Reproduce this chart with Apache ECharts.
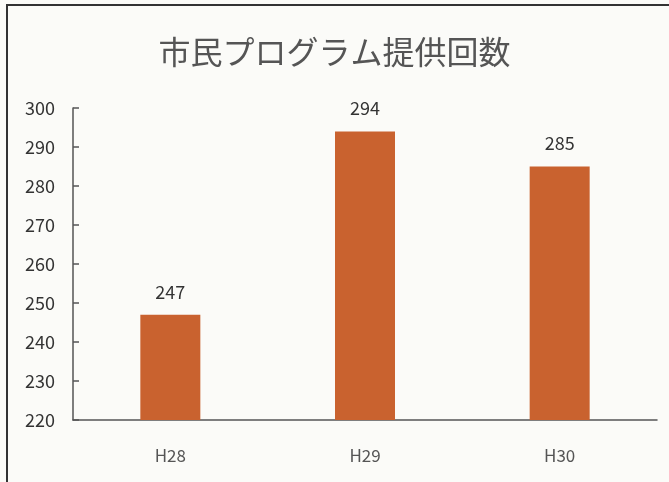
<!DOCTYPE html>
<html>
<head>
<meta charset="utf-8">
<script src="https://cdn.jsdelivr.net/npm/echarts@6/dist/echarts.min.js"></script>
<style>
  html, body { margin: 0; padding: 0; background: #fbfbf8; }
  #chart { width: 669px; height: 482px; }
</style>
</head>
<body>
<div id="chart"></div>
<script>
// Number of citizen programs offered per fiscal year
const categories = ['H28', 'H29', 'H30'];
const programCounts = [247, 294, 285];
const yTicks = [220, 230, 240, 250, 260, 270, 280, 290, 300];

const chart = echarts.init(document.getElementById('chart'));
const font = '"Noto Sans CJK JP", "Noto Sans", sans-serif';

chart.setOption({
  backgroundColor: '#fbfbf8',
  animation: false,
  title: {
    text: '市民プログラム提供回数',
    left: 'center',
    top: 31,
    textStyle: { fontFamily: font, fontSize: 32, fontWeight: 'normal', color: '#555' }
  },
  graphic: [{
    type: 'rect',
    shape: { x: 7, y: 5, width: 680, height: 480 },
    style: { fill: 'none', stroke: '#333', lineWidth: 2 },
    silent: true
  }],
  grid: { left: 73, right: 12, top: 108, bottom: 62 },
  xAxis: {
    type: 'category',
    data: categories,
    axisLine: { lineStyle: { color: '#555', width: 1.5 } },
    axisTick: { show: false },
    axisLabel: { fontFamily: font, fontSize: 17, color: '#555', margin: 27 }
  },
  yAxis: {
    type: 'value',
    min: yTicks[0],
    max: yTicks[yTicks.length - 1],
    interval: 10,
    splitLine: { show: false },
    axisLine: { show: true, lineStyle: { color: '#555', width: 1.5 } },
    axisTick: { show: true, inside: true, length: 6, lineStyle: { color: '#555', width: 1.5 } },
    axisLabel: { fontFamily: font, fontSize: 18, color: '#333', margin: 18 }
  },
  series: [{
    type: 'bar',
    data: programCounts,
    barWidth: 60,
    itemStyle: { color: '#c9622f' },
    label: {
      show: true,
      position: 'top',
      distance: 14,
      fontFamily: font,
      fontSize: 18,
      color: '#333'
    }
  }]
});
</script>
</body>
</html>
